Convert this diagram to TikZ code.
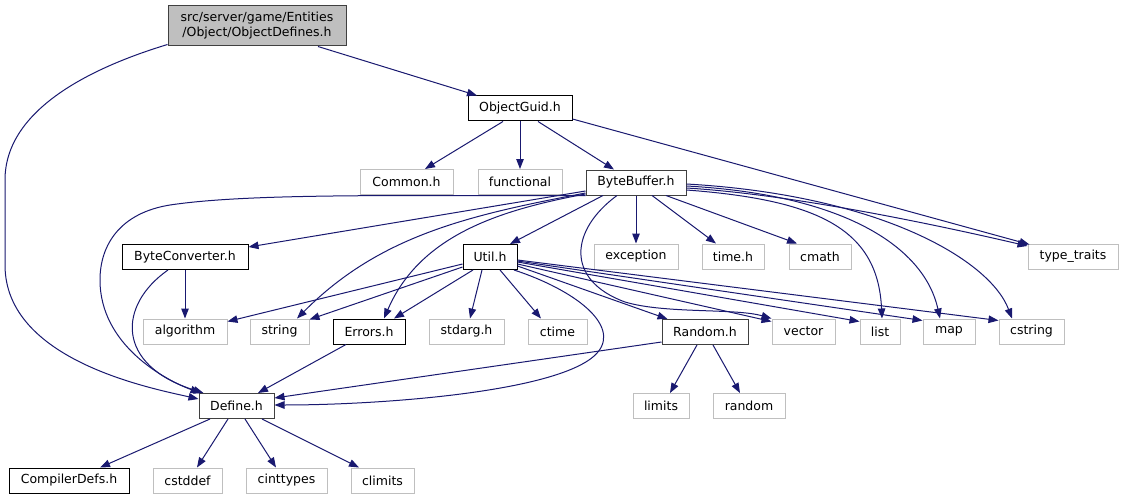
\documentclass[tikz,border=0pt]{standalone}
\usepackage{fontspec}
\setmainfont{DejaVu Sans}
\usetikzlibrary{arrows.meta}
\definecolor{edgeblue}{HTML}{191970}
\definecolor{extgray}{HTML}{BFBFBF}
\definecolor{maingray}{HTML}{BFBFBF}
\definecolor{borderdark}{HTML}{404040}
\begin{document}
\begin{tikzpicture}[x=1pt,y=-1pt,
  box/.style={draw=black, line width=1pt, rectangle, inner sep=0pt, minimum height=25pt,
    font=\fontsize{12.5}{15}\selectfont, text=black},
  ext/.style={box, draw=extgray},
  root/.style={box, fill=maingray, draw=borderdark, minimum height=40pt, align=center},
  dep/.style={draw=edgeblue, line width=1pt, -{Triangle[length=10pt,width=7.5pt]}}
]
\fill[white] (0,0) rectangle (1124,500);
% nodes
\node[root, minimum width=178pt] (od) at (257,26) {src/server/game/Entities\\/Object/ObjectDefines.h};
\node[box, minimum width=104pt] (og) at (520,108.5) {ObjectGuid.h};
\node[ext, minimum width=93pt] (common) at (406.5,182) {Common.h};
\node[ext, minimum width=84pt] (func) at (520,182) {functional};
\node[box, minimum width=100pt, draw=borderdark] (bb) at (636,182.5) {ByteBuffer.h};
\node[box, minimum width=126pt] (bc) at (185,257) {ByteConverter.h};
\node[box, minimum width=54pt] (util) at (490,257) {Util.h};
\node[ext, minimum width=84pt] (exc) at (636,256.5) {exception};
\node[ext, minimum width=62pt] (timeh) at (733,256.5) {time.h};
\node[ext, minimum width=62pt] (cmath) at (820,256.5) {cmath};
\node[ext, minimum width=90pt] (tt) at (1073,256.5) {type\_traits};
\node[ext, minimum width=84pt] (algo) at (185,331.5) {algorithm};
\node[ext, minimum width=59pt] (str) at (279.5,331.5) {string};
\node[box, minimum width=72pt] (err) at (369,331.5) {Errors.h};
\node[ext, minimum width=75pt] (stdarg) at (466.5,331.5) {stdarg.h};
\node[ext, minimum width=59pt] (ctime) at (557.5,331.5) {ctime};
\node[box, minimum width=86pt, draw=borderdark] (rnd) at (705,332) {Random.h};
\node[ext, minimum width=63pt] (vec) at (803.5,331.5) {vector};
\node[ext, minimum width=40pt] (lst) at (880,331.5) {list};
\node[ext, minimum width=52pt] (map) at (949,331.5) {map};
\node[ext, minimum width=65pt] (cstr) at (1031.5,331.5) {cstring};
\node[box, minimum width=75pt, draw=borderdark] (def) at (236.5,406) {Define.h};
\node[ext, minimum width=56pt] (lim) at (661,406) {limits};
\node[ext, minimum width=72pt] (rand) at (749,406) {random};
\node[box, minimum width=120pt] (cd) at (69,480.5) {CompilerDefs.h};
\node[ext, minimum width=69pt] (cstddef) at (187.5,480.5) {cstddef};
\node[ext, minimum width=81pt] (cint) at (286.5,480.5) {cinttypes};
\node[ext, minimum width=63pt] (clim) at (382.5,480.5) {climits};
% edges from ObjectDefines
\draw[dep] ([xshift=61pt]od.south) -- ([xshift=-43pt]og.north);
\draw[dep] ([yshift=2pt]od.south west) .. controls (90,68) and (5,110) .. (5,180)
  -- (5,265) .. controls (5,360) and (150,388) .. ([yshift=7pt]def.west);
% ObjectGuid
\draw[dep] ([xshift=-17pt]og.south) -- ([xshift=18.5pt]common.north);
\draw[dep] (og.south) -- (func.north);
\draw[dep] ([xshift=18pt]og.south) -- ([xshift=-22pt]bb.north);
\draw[dep] ([yshift=-10.5pt]og.east) -- ([xshift=2pt,yshift=-1pt]tt.north west);
% ByteBuffer
\draw[dep] ([yshift=-8.5pt]bb.west) -- ([yshift=10pt]bc.east);
\draw[dep] (bb.south west) .. controls (400,196) and (250,193) .. (170,205)
  .. controls (120,213) and (100,245) .. (100,280)
  .. controls (100,345) and (165,380) .. ([xshift=2pt]def.north west);
\draw[dep] ([yshift=-10.5pt]bb.west) .. controls (470,215) and (380,235) .. ([xshift=17.5pt]str.north);
\draw[dep] ([yshift=-11.5pt]bb.west) .. controls (500,210) and (420,235) .. ([xshift=15pt]err.north);
\draw[dep] ([xshift=-33pt]bb.south) -- ([xshift=20pt]util.north);
\draw[dep] (bb.south) -- (exc.north);
\draw[dep] ([xshift=16pt]bb.south) -- ([xshift=-17pt]timeh.north);
\draw[dep] ([xshift=30pt]bb.south) -- ([xshift=-23pt]cmath.north);
\draw[dep] ([yshift=-5.5pt]bb.east) .. controls (800,195) and (950,228) .. ([yshift=-2.5pt]tt.north west);
\draw[dep] ([yshift=-7.5pt]bb.east) .. controls (820,200) and (878,230) .. ([xshift=2pt]lst.north);
\draw[dep] ([yshift=-3.5pt]bb.east) .. controls (850,195) and (925,250) .. ([xshift=-9pt]map.north);
\draw[dep] ([yshift=-1.5pt]bb.east) .. controls (880,195) and (990,260) .. ([xshift=-19.5pt]cstr.north);
\draw[dep] ([xshift=-19pt]bb.south) .. controls (570,230) and (565,280) .. (625,302)
  .. controls (665,314) and (735,308) .. (vec.north west);
% Util
\draw[dep] ([yshift=-7pt]util.west) -- ([yshift=-3pt]algo.north east);
\draw[dep] ([yshift=-10pt]util.west) -- ([yshift=-1pt]str.north east);
\draw[dep] ([xshift=-17pt]util.south) -- ([xshift=25pt]err.north);
\draw[dep] ([xshift=-8pt]util.south) -- ([xshift=3.5pt]stdarg.north);
\draw[dep] ([xshift=10pt]util.south) -- ([xshift=-16.5pt]ctime.north);
\draw[dep] ([xshift=24pt]util.south) .. controls (575,290) and (620,325) .. (598,352)
  .. controls (565,392) and (380,405) .. ([yshift=1pt]def.east);
\draw[dep] ([yshift=-9pt]util.east) -- ([xshift=6pt]rnd.north west);
\draw[dep] ([yshift=-7pt]util.east) -- ([yshift=-3pt]vec.north west);
\draw[dep] ([yshift=-5pt]util.east) -- ([yshift=-3pt]lst.north west);
\draw[dep] ([yshift=-4pt]util.east) -- ([yshift=-2pt]map.north west);
\draw[dep] ([yshift=-3pt]util.east) -- ([yshift=-2pt]cstr.north west);
% ByteConverter
\draw[dep] (bc.south) -- (algo.north);
\draw[dep] ([xshift=-17pt]bc.south) .. controls (118,305) and (115,365) .. ([xshift=5pt]def.north west);
% Errors
\draw[dep] ([xshift=-23pt]err.south) -- ([xshift=21.5pt]def.north);
% Random
\draw[dep] ([yshift=-10pt]rnd.west) -- ([yshift=8pt]def.east);
\draw[dep] ([xshift=-8pt]rnd.south) -- ([xshift=9pt]lim.north);
\draw[dep] ([xshift=8pt]rnd.south) -- ([xshift=-9pt]rand.north);
% Define
\draw[dep] ([xshift=-26.5pt]def.south) -- ([xshift=31pt]cd.north);
\draw[dep] ([xshift=-8.5pt]def.south) -- ([xshift=9.5pt]cstddef.north);
\draw[dep] ([xshift=8.5pt]def.south) -- ([xshift=-10.5pt]cint.north);
\draw[dep] ([xshift=25.5pt]def.south) -- ([xshift=-23.5pt]clim.north);
\end{tikzpicture}
\end{document}
